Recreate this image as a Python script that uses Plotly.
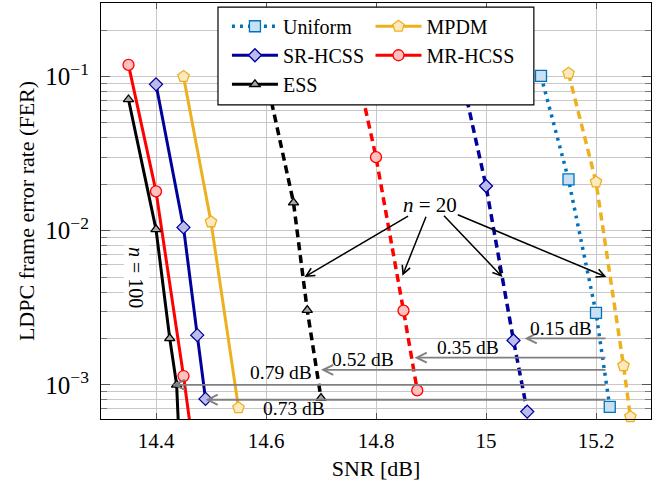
import plotly.graph_objects as go
import math

# ---------------- data ----------------
# n = 100 curves
snr_ess_100 = [14.35, 14.40, 14.425, 14.4375, 14.45]
fer_ess_100 = [0.071, 0.0102, 0.0020, 0.00100, 0.0001]
snr_mr_100 = [14.35, 14.40, 14.45, 14.475]
fer_mr_100 = [0.119, 0.018, 0.00114, 0.00025]
snr_sr_100 = [14.40, 14.45, 14.475, 14.49]
fer_sr_100 = [0.089, 0.0105, 0.0021, 0.00081]
snr_mpdm_100 = [14.45, 14.50, 14.55]
fer_mpdm_100 = [0.100, 0.0114, 0.00071]

# n = 20 curves
snr_ess_20 = [14.60, 14.65, 14.675, 14.70]
fer_ess_20 = [0.100, 0.0152, 0.00305, 0.00082]
snr_mr_20 = [14.75, 14.80, 14.85, 14.875]
fer_mr_20 = [0.195, 0.030, 0.00303, 0.00092]
snr_sr_20 = [14.95, 15.00, 15.05, 15.075]
fer_sr_20 = [0.125, 0.0195, 0.00194, 0.00067]
snr_uni_20 = [15.10, 15.15, 15.20, 15.225]
fer_uni_20 = [0.101, 0.0215, 0.00293, 0.00072]
snr_mpdm_20 = [15.15, 15.20, 15.25, 15.2625]
fer_mpdm_20 = [0.105, 0.0207, 0.00133, 0.00062]

# gap annotations (reference = Uniform n=20 at 15.22 dB)
gap_ref_snr = 15.22
gap_target_snr = [15.07, 14.87, 14.70, 14.43, 14.49]
gap_level = [2.0e-3, 1.5e-3, 1.25e-3, 1.0e-3, 8.0e-4]
gap_labels = ["0.15 dB", "0.35 dB", "0.52 dB", "0.79 dB", "0.73 dB"]
gap_label_snr = [15.137, 14.967, 14.776, 14.627, 14.651]
gap_label_fer = [2.32e-3, 1.74e-3, 1.47e-3, 1.2e-3, 6.97e-4]

# n = 20 pointer arrows
n20_text_pos = (14.899, 0.0147)
n20_tails = [(14.861, 0.0126), (14.892, 0.0126), (14.921, 0.0128), (14.946, 0.0128)]
n20_heads = [(14.670, 0.0050), (14.848, 0.0051), (15.030, 0.0050), (15.219, 0.0050)]

# n = 100 marker ellipse and label
n100_ellipse = (14.396, 14.535, 0.00421, 0.00586)
n100_label_pos = (14.365, 0.00495)

xtick_vals = [14.4, 14.6, 14.8, 15.0, 15.2]
xtick_text = ["14.4", "14.6", "14.8", "15", "15.2"]

# ---------------- styles ----------------
FONT = "Liberation Serif"
C_UNI = "#0072BD"
C_SR = "#00009C"
C_ESS = "#000000"
C_MPDM = "#EDB120"
C_MR = "#FF0000"

fig = go.Figure()

def add(x, y, name, color, dash, width, symbol, fill, size, legend="legend", showlegend=True, clip=True):
    fig.add_trace(go.Scatter(
        x=x, y=y, name=name, mode="lines+markers",
        line=dict(color=color, width=width, dash=dash),
        marker=dict(symbol=symbol, size=size, color=fill, line=dict(color=color, width=1.3)),
        legend=legend, showlegend=showlegend, cliponaxis=clip,
    ))

DASH = "8px,5px"
DOT = "3px,5px"

# legend-carrying traces
add(snr_uni_20, fer_uni_20, "Uniform", C_UNI, DOT, 3.5, "square", "#C9E0F2", 11)
add(snr_mpdm_100, fer_mpdm_100, "MPDM", C_MPDM, "solid", 3, "pentagon", "#FCE9BD", 12, legend="legend2")
add(snr_sr_100, fer_sr_100, "SR-HCSS", C_SR, "solid", 3, "diamond", "#BCBCEC", 10)
add(snr_mr_100, fer_mr_100, "MR-HCSS", C_MR, "solid", 3, "circle", "#FFC0C0", 11, legend="legend2")
add(snr_ess_100, fer_ess_100, "ESS", C_ESS, "solid", 3, "triangle-up", "#A8A8A8", 9)

# n = 20 dashed curves
add(snr_mpdm_20, fer_mpdm_20, "MPDM n=20", C_MPDM, DASH, 3.5, "pentagon", "#FCE9BD", 12, showlegend=False, clip=False)
add(snr_sr_20, fer_sr_20, "SR-HCSS n=20", C_SR, DASH, 3.5, "diamond", "#BCBCEC", 10, showlegend=False)
add(snr_mr_20, fer_mr_20, "MR-HCSS n=20", C_MR, DASH, 3.5, "circle", "#FFC0C0", 11, showlegend=False)
add(snr_ess_20, fer_ess_20, "ESS n=20", C_ESS, DASH, 3.5, "triangle-up", "#A8A8A8", 9, showlegend=False)

L = math.log10
shapes = []
annotations = []

# dotted vertical helper lines
top_level = max(gap_level)
low_level = min(gap_level)
shapes.append(dict(type="line", xref="x", yref="y", x0=gap_ref_snr, x1=gap_ref_snr,
                   y0=L(top_level), y1=L(low_level), line=dict(color="black", width=1.5, dash="dot")))
for xs, lv in zip(gap_target_snr, gap_level):
    if abs(L(lv) - L(1e-3)) > 1e-6:
        shapes.append(dict(type="line", xref="x", yref="y", x0=xs, x1=xs,
                           y0=L(lv), y1=L(1e-3), line=dict(color="black", width=1.5, dash="dot")))

# gray gap arrows
for xs, lv, lab, lx, ly in zip(gap_target_snr, gap_level, gap_labels, gap_label_snr, gap_label_fer):
    annotations.append(dict(x=xs, y=L(lv), ax=gap_ref_snr, ay=L(lv), xref="x", yref="y",
                            axref="x", ayref="y", text="", showarrow=True, arrowhead=5,
                            arrowsize=1.1, arrowwidth=1.8, arrowcolor="#808080", standoff=0))
    annotations.append(dict(x=lx, y=L(ly), xref="x", yref="y", text=lab, showarrow=False,
                            font=dict(family=FONT, size=19.5, color="black")))

# n = 20 arrows
for (tx, ty), (hx, hy) in zip(n20_tails, n20_heads):
    annotations.append(dict(x=hx, y=L(hy), ax=tx, ay=L(ty), xref="x", yref="y",
                            axref="x", ayref="y", text="", showarrow=True, arrowhead=5,
                            arrowsize=1.1, arrowwidth=1.5, arrowcolor="black", standoff=0))
annotations.append(dict(x=n20_text_pos[0], y=L(n20_text_pos[1]), xref="x", yref="y",
                        text="<i>n</i> = 20", showarrow=False,
                        font=dict(family=FONT, size=21, color="black")))

# n = 100 ellipse + label
ex0, ex1, ey0, ey1 = n100_ellipse
shapes.append(dict(type="circle", xref="x", yref="y", x0=ex0, x1=ex1, y0=L(ey0), y1=L(ey1),
                   line=dict(color="black", width=2)))
annotations.append(dict(x=n100_label_pos[0], y=L(n100_label_pos[1]), xref="x", yref="y",
                        text="<i>n</i> = 100", showarrow=False, textangle=90,
                        bgcolor="white", font=dict(family=FONT, size=20, color="black")))

# legend frame
shapes.append(dict(type="rect", xref="paper", yref="paper", x0=0.2127, x1=0.787, y0=0.755, y1=0.990,
                   fillcolor="white", line=dict(color="black", width=1.2), layer="above"))

grid_c = "#C8C8C8"
fig.update_layout(
    width=667, height=487,
    margin=dict(l=101, r=16, t=3, b=68),
    paper_bgcolor="white", plot_bgcolor="white",
    font=dict(family=FONT, size=21, color="black"),
    shapes=shapes, annotations=annotations,
    legend=dict(x=0.229, y=0.991, xanchor="left", yanchor="top", bgcolor="rgba(0,0,0,0)",
                borderwidth=0, font=dict(family=FONT, size=20), itemwidth=46, tracegroupgap=0),
    legend2=dict(x=0.49, y=0.991, xanchor="left", yanchor="top", bgcolor="rgba(0,0,0,0)",
                 borderwidth=0, font=dict(family=FONT, size=20), itemwidth=46, tracegroupgap=0),
    xaxis=dict(range=[14.3, 15.3], tickvals=xtick_vals, ticktext=xtick_text, automargin=False,
               showgrid=True, gridcolor=grid_c, gridwidth=1, zeroline=False,
               showline=True, linecolor="black", linewidth=1.2, mirror="allticks",
               ticks="inside", ticklen=6, tickcolor="#555", ticklabelstandoff=3,
               tickfont=dict(family=FONT, size=21),
               title=dict(text="SNR [dB]", standoff=8, font=dict(family=FONT, size=22))),
    yaxis=dict(type="log", range=[L(6e-4), L(0.3)], dtick=1, exponentformat="power", automargin=False,
               showgrid=True, gridcolor=grid_c, gridwidth=1, zeroline=False,
               showline=True, linecolor="black", linewidth=1.2, mirror="allticks",
               ticks="inside", ticklen=9, tickcolor="#555", ticklabelstandoff=7,
               tickfont=dict(family=FONT, size=20),
               minor=dict(dtick="D1", showgrid=True, gridcolor=grid_c, gridwidth=1,
                          ticks="inside", ticklen=6, tickcolor="#777"),
               title=dict(text="LDPC frame error rate (FER)", standoff=4,
                          font=dict(family=FONT, size=22))),
)

fig.write_html("out.html", config={"displayModeBar": False},
               post_script="document.body.style.margin='0px';")
